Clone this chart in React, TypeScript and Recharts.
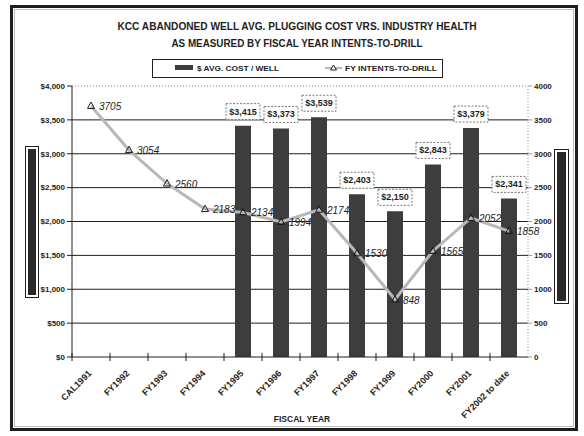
import {
  ComposedChart,
  Bar,
  Line,
  XAxis,
  YAxis,
  CartesianGrid,
  LabelList,
  ReferenceLine,
} from 'recharts'

const years = [
  'CAL1991', 'FY1992', 'FY1993', 'FY1994', 'FY1995', 'FY1996',
  'FY1997', 'FY1998', 'FY1999', 'FY2000', 'FY2001', 'FY2002 to date',
]
const avgCost = [null, null, null, null, 3415, 3373, 3539, 2403, 2150, 2843, 3379, 2341]
const intents = [3705, 3054, 2560, 2183, 2134, 1994, 2174, 1530, 848, 1565, 2052, 1858]
const costTicks = [0, 500, 1000, 1500, 2000, 2500, 3000, 3500, 4000]
const intentTicks = [0, 500, 1000, 1500, 2000, 2500, 3000, 3500, 4000]

const data = years.map((year, i) => ({ year, cost: avgCost[i], intents: intents[i] }))

const FONT = "'Liberation Sans', Arial, sans-serif"
const INK = '#1e1e1e'
const HALF_BAND = 19

const money = (v: number) => '$' + v.toLocaleString('en-US')

function YearTick(props: any) {
  const { x, y, payload } = props
  const ax = x + 1
  const ay = y + 17
  return (
    <g>
      <line x1={x - HALF_BAND} x2={x - HALF_BAND} y1={y - 4} y2={y + 4} stroke={INK} />
      <text
        x={ax}
        y={ay}
        transform={`rotate(-45 ${ax} ${ay})`}
        textAnchor="end"
        fontSize={9}
        fontWeight="bold"
        fontFamily={FONT}
        fill={INK}
      >
        {payload.value}
      </text>
    </g>
  )
}

function CostLabel(props: any) {
  const { x, y, width, value } = props
  if (value == null) return null
  const cx = x + width / 2
  return (
    <g>
      <rect x={cx - 17} y={y - 22} width={34} height={16} fill="#fff" stroke="#777" strokeDasharray="2 1.5" />
      <text x={cx} y={y - 11} textAnchor="middle" fontSize={9} fontWeight="bold" fontFamily={FONT} fill={INK}>
        {money(value)}
      </text>
    </g>
  )
}

function IntentLabel(props: any) {
  const { x, y, value } = props
  return (
    <text x={x + 8} y={y + 4} fontSize={10} fontStyle="italic" fontFamily={FONT} fill={INK}>
      {value}
    </text>
  )
}

function TriDot(props: any) {
  const { cx, cy, index } = props
  return (
    <path
      key={`dot-${index}`}
      d={`M${cx},${cy - 4} L${cx + 3.5},${cy + 2.5} L${cx - 3.5},${cy + 2.5} Z`}
      fill="none"
      stroke={INK}
      strokeWidth={1}
    />
  )
}

export default function App() {
  return (
    <div style={{ position: 'absolute', left: 0, top: 0, width: 584, height: 436, background: '#fff' }}>
      <ComposedChart
        width={584}
        height={436}
        data={data}
        margin={{ top: 86, right: 16, bottom: 35, left: 20 }}
        style={{ fontFamily: FONT }}
      >
        <CartesianGrid
          yAxisId="cost"
          vertical={false}
          stroke={INK}
          horizontalValues={costTicks.slice(1, -1)}
        />
        <ReferenceLine yAxisId="cost" y={4000} stroke="#888" strokeDasharray="1 2" />
        <XAxis
          dataKey="year"
          interval={0}
          height={44}
          tickLine={false}
          tickSize={0}
          tickMargin={0}
          axisLine={{ stroke: INK }}
          tick={<YearTick />}
        />
        <YAxis
          yAxisId="cost"
          width={52}
          domain={[0, 4000]}
          ticks={costTicks}
          tickFormatter={money}
          tickSize={5}
          axisLine={{ stroke: INK }}
          tickLine={{ stroke: INK }}
          tick={{ fontSize: 8, fontWeight: 'bold', fill: INK }}
        />
        <YAxis
          yAxisId="itd"
          orientation="right"
          width={40}
          domain={[0, 4000]}
          ticks={intentTicks}
          tickSize={4}
          axisLine={{ stroke: '#999', strokeDasharray: '1 2' }}
          tickLine={{ stroke: '#999' }}
          tick={{ fontSize: 8, fontWeight: 'bold', fill: INK }}
        />
        <Bar yAxisId="cost" dataKey="cost" fill="#3d3d3d" barSize={16} isAnimationActive={false}>
          <LabelList dataKey="cost" content={<CostLabel />} />
        </Bar>
        <Line
          yAxisId="itd"
          dataKey="intents"
          stroke="#b8b8b8"
          strokeWidth={3}
          dot={<TriDot />}
          activeDot={false}
          isAnimationActive={false}
        >
          <LabelList dataKey="intents" content={<IntentLabel />} />
        </Line>
      </ComposedChart>

      <svg width={584} height={436} style={{ position: 'absolute', left: 0, top: 0, pointerEvents: 'none' }}>
        <rect x={11.5} y={6.5} width={565} height={423} fill="none" stroke={INK} strokeWidth={3} />
        <rect x={14.5} y={9.5} width={559} height={417} fill="none" stroke="#bbb" strokeWidth={1} />

        <text x={297} y={30} textAnchor="middle" fontSize={10} fontWeight="bold" fontFamily={FONT} fill={INK}
          textLength={359} lengthAdjust="spacingAndGlyphs">
          KCC ABANDONED WELL AVG. PLUGGING COST VRS. INDUSTRY HEALTH
        </text>
        <text x={297} y={47} textAnchor="middle" fontSize={10} fontWeight="bold" fontFamily={FONT} fill={INK}
          textLength={251} lengthAdjust="spacingAndGlyphs">
          AS MEASURED BY FISCAL YEAR INTENTS-TO-DRILL
        </text>

        <rect x={152.5} y={59.5} width={290} height={18} fill="#fff" stroke={INK} />
        <rect x={175} y={65} width={18} height={5} fill="#3d3d3d" />
        <text x={197} y={71} fontSize={8} fontWeight="bold" fontFamily={FONT} fill={INK}
          textLength={82} lengthAdjust="spacingAndGlyphs">
          $ AVG. COST / WELL
        </text>
        <line x1={325} x2={342} y1={68} y2={68} stroke="#b8b8b8" strokeWidth={2} />
        <path d="M333.5,65 L336.5,70 L330.5,70 Z" fill="#fff" stroke={INK} />
        <text x={345} y={71} fontSize={8} fontWeight="bold" fontFamily={FONT} fill={INK}
          textLength={92} lengthAdjust="spacingAndGlyphs">
          FY INTENTS-TO-DRILL
        </text>

        <rect x={25.5} y={146.5} width={13} height={151} fill="#fff" stroke={INK} />
        <rect x={28} y={149} width={8} height={146} fill="#2a2a2a" />
        <rect x={554.5} y={149.5} width={14} height={154} fill="#fff" stroke={INK} />
        <rect x={557} y={152} width={9} height={149} fill="#2a2a2a" />

        <text x={302} y={422} textAnchor="middle" fontSize={8.5} fontWeight="bold" fontFamily={FONT} fill={INK}>
          FISCAL YEAR
        </text>
      </svg>
    </div>
  )
}
